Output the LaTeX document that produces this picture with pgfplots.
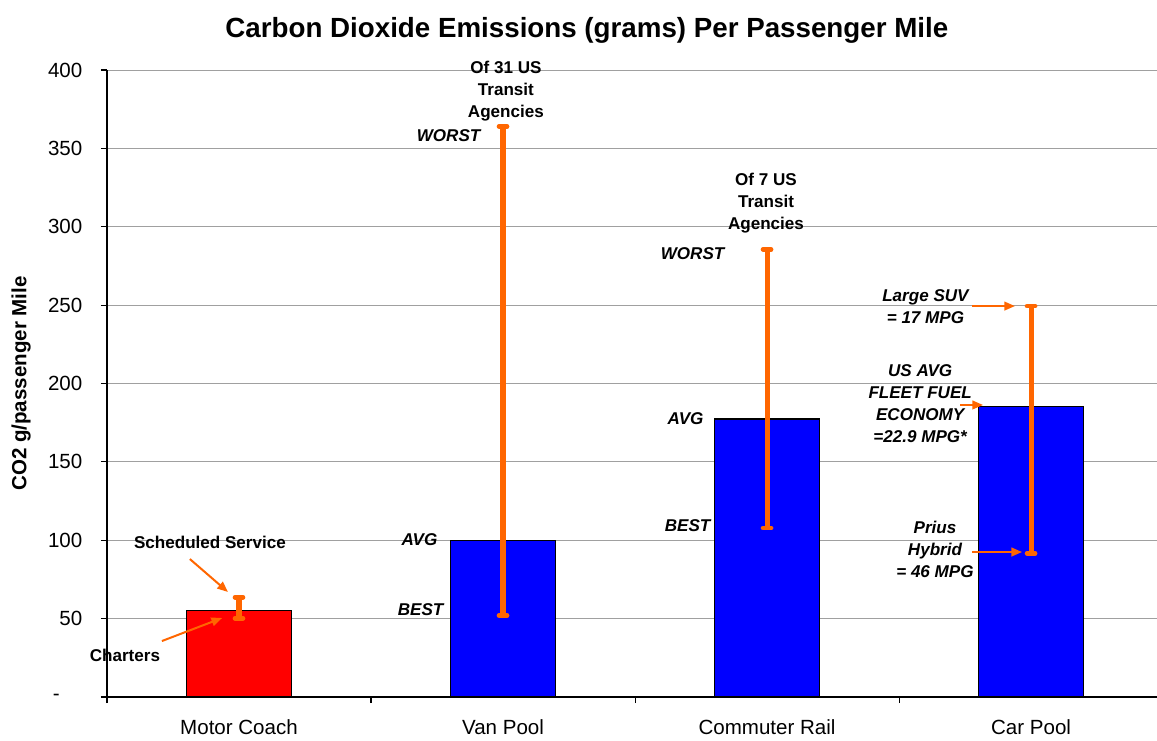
\documentclass[border=0pt]{standalone}
\usepackage{fontspec}
\setmainfont{Liberation Sans}
\usepackage{pgfplots}
\pgfplotsset{compat=1.18}
\usetikzlibrary{arrows.meta}
\definecolor{barblue}{RGB}{0,0,255}
\definecolor{barred}{RGB}{255,0,0}
\definecolor{errorange}{RGB}{255,102,0}
\definecolor{gridgray}{RGB}{160,160,160}
\newcommand\annf{\fontsize{12.8}{16.5}\selectfont}
\newcommand\tickf{\fontsize{15.4}{18}\selectfont}
\begin{document}
\begin{tikzpicture}
\begin{axis}[
  scale only axis, width=787.5pt, height=470.25pt,
  at={(0,0)}, anchor=south west,
  xmin=-0.5, xmax=3.477, ymin=0, ymax=400,
  clip=false,
  axis lines=left, axis line style={-, black, line width=0.8pt},
  ybar, bar width=0.398, bar shift=0pt,
  ytick={0,50,...,400},
  yticklabels={{-\rule{17pt}{0pt}},50,100,150,200,250,300,350,400},
  yticklabel style={xshift=-10.5pt},
  ymajorgrids, major grid style={gridgray, line width=0.6pt},
  xtick={-0.5,0.5,1.5,2.5}, xticklabels={},
  extra x ticks={0,1,2,3},
  extra x tick labels={Motor Coach,Van Pool,Commuter Rail,Car Pool},
  extra x tick style={major tick length=0pt, grid=none, xticklabel style={yshift=-13.5pt}},
  tick align=outside, major tick length=4.5pt,
  tick style={black, line width=0.8pt},
  ticklabel style={font=\tickf},
  /pgf/number format/assume math mode=true,
  title={Carbon Dioxide Emissions (grams) Per Passenger Mile},
  title style={font=\bfseries\fontsize{20.8}{24}\selectfont, at={(axis description cs:0.457,1)}, anchor=center, yshift=24pt},
  ylabel={CO2 g/passenger Mile},
  ylabel style={font=\bfseries\tickf, at={(axis description cs:-0.0819,0.5)}, anchor=center},
  error bars/y dir=both, error bars/y explicit,
  error bars/error bar style={errorange, line width=3.8pt},
  error bars/error mark options={errorange, rotate=90, mark size=3pt, line width=3.5pt, line cap=round},
]
\addplot[fill=barred, draw=black, line width=1pt] coordinates {(0,55) += (0,8.6) -= (0,4.8)};
\addplot[fill=barblue, draw=black, line width=1pt] coordinates {
  (1,100) += (0,264) -= (0,48)
  (2,177.3) += (0,108.3) -= (0,69.5)
  (3,185.2) += (0,64.2) -= (0,93.5)
};
% Motor Coach annotations
\node[font=\bfseries\annf] at (axis cs:-0.11,98.9) {Scheduled Service};
\node[font=\bfseries\annf] at (axis cs:-0.432,26.8) {Charters};
\draw[errorange, line width=1.5pt, -{Triangle[length=8pt,width=6.5pt]}] (axis cs:-0.186,88) -- (axis cs:-0.042,67);
\draw[errorange, line width=1.5pt, -{Triangle[length=8pt,width=6.5pt]}] (axis cs:-0.292,35.7) -- (axis cs:-0.064,50.4);
% Van Pool
\node[font=\bfseries\annf, align=center] at (axis cs:1.011,386.6) {Of 31 US\\Transit\\Agencies};
\node[font=\bfseries\itshape\annf, anchor=east] at (axis cs:0.932,357.9) {WORST};
\node[font=\bfseries\itshape\annf, anchor=east] at (axis cs:0.769,100.2) {AVG};
\node[font=\bfseries\itshape\annf, anchor=east] at (axis cs:0.792,55.5) {BEST};
% Commuter Rail
\node[font=\bfseries\annf, align=center] at (axis cs:1.996,315.2) {Of 7 US\\Transit\\Agencies};
\node[font=\bfseries\itshape\annf, anchor=east] at (axis cs:1.856,282.6) {WORST};
\node[font=\bfseries\itshape\annf, anchor=east] at (axis cs:1.777,177.4) {AVG};
\node[font=\bfseries\itshape\annf, anchor=east] at (axis cs:1.803,109.1) {BEST};
% Car Pool
\node[font=\bfseries\itshape\annf, align=center] at (axis cs:2.60,248.8) {Large SUV\\= 17 MPG};
\node[font=\bfseries\itshape\annf, align=center] at (axis cs:2.58,187.2) {US AVG\\FLEET FUEL\\ECONOMY\\=22.9 MPG*};
\node[font=\bfseries\itshape\annf, align=center] at (axis cs:2.636,94.4) {Prius\\Hybrid\\= 46 MPG};
\draw[errorange, line width=1.5pt, -{Triangle[length=8pt,width=6.5pt]}] (axis cs:2.777,249.4) -- (axis cs:2.939,249.4);
\draw[errorange, line width=1.5pt, -{Triangle[length=8pt,width=6.5pt]}] (axis cs:2.731,186.3) -- (axis cs:2.818,186.3);
\draw[errorange, line width=1.5pt, -{Triangle[length=8pt,width=6.5pt]}] (axis cs:2.777,92.5) -- (axis cs:2.966,92.5);
\end{axis}
\pgfresetboundingbox
\path (-80.25pt,-32.25pt) rectangle (787.5pt,522.75pt);
\end{tikzpicture}
\end{document}
